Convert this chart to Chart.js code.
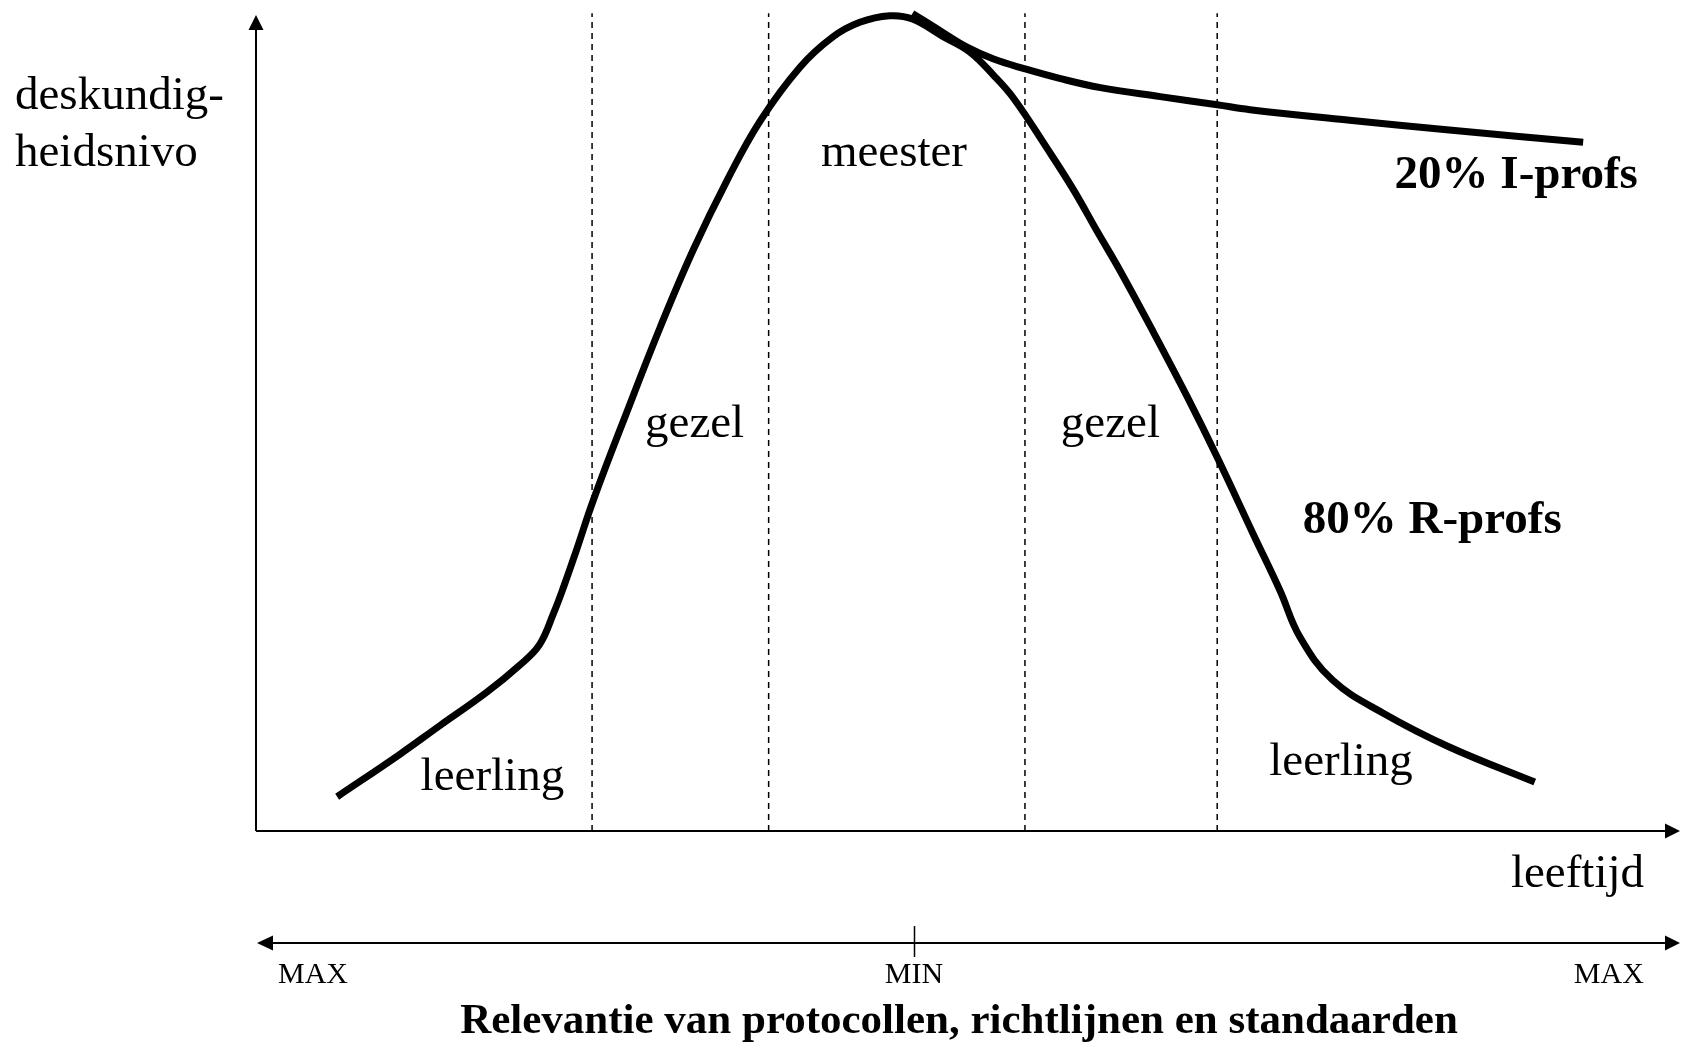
<!DOCTYPE html>
<html lang="nl">
<head>
<meta charset="utf-8">
<title>Deskundigheidsnivo en leeftijd</title>
<script src="https://cdn.jsdelivr.net/npm/chart.js@4.4.1/dist/chart.umd.min.js"></script>
<style>
  html, body { margin: 0; padding: 0; background: #fff; }
  #chart { display: block; }
</style>
</head>
<body>
<canvas id="chart" width="1681" height="1042"></canvas>
<script>
// leeftijd (x) en deskundigheid (y), beide op een schaal 0..100
const rProfsX = [5.7, 10.1, 12.9, 16.2, 18.5, 19.9, 20.9, 21.6, 22.5, 23.7, 26.1, 28.4, 30.7, 33.1, 35.4, 38.2, 40.5, 42.4, 44.5, 46.1, 48.2, 50.1, 51.8, 53.2, 55.5, 57.4, 59.1, 60.7, 63.0, 65.4, 67.5, 70.0, 71.9, 73.3, 75.6, 79.1, 83.8, 89.8];
const rProfsY = [4.2, 9.4, 12.9, 17.0, 20.3, 22.8, 26.7, 29.9, 34.4, 40.6, 51.6, 61.8, 71.2, 79.8, 87.0, 93.6, 97.3, 99.1, 99.9, 99.5, 97.4, 95.5, 92.6, 89.8, 83.8, 78.6, 73.4, 68.6, 61.2, 53.2, 45.8, 36.5, 29.5, 23.8, 18.5, 14.5, 10.3, 6.0];
const iProfsX = [46.1, 48.2, 49.9, 51.8, 54.0, 56.5, 59.3, 63.5, 67.5, 69.8, 76.8, 83.8, 93.2];
const iProfsY = [100.2, 97.9, 96.1, 94.6, 93.4, 92.2, 91.1, 90.0, 89.0, 88.4, 87.1, 85.9, 84.4];
const phaseBounds = [23.6, 36.0, 54.0, 67.5];
const phaseNames = ["leerling", "gezel", "meester", "gezel", "leerling"];
const seriesNames = ["80% R-profs", "20% I-profs"];
const relevanceTicks = [4.0, 46.2, 95.0];
const relevanceLabels = ["MAX", "MIN", "MAX"];

const SERIF = '"Liberation Serif", "DejaVu Serif", serif';

function toPoints(xs, ys) {
  return xs.map((x, i) => ({ x: x, y: ys[i] }));
}

const datasets = [
  {
    label: seriesNames[0],
    data: toPoints(rProfsX, rProfsY),
    borderColor: "#000",
    borderWidth: 7,
    tension: 0.4,
    borderCapStyle: "butt",
  },
  {
    label: seriesNames[1],
    data: toPoints(iProfsX, iProfsY),
    borderColor: "#000",
    borderWidth: 7,
    tension: 0.4,
    borderCapStyle: "butt",
  },
];
phaseBounds.forEach((b) => {
  datasets.push({
    label: "grens",
    data: [{ x: b, y: 0 }, { x: b, y: 100.2 }],
    borderColor: "#000",
    borderWidth: 1.5,
    borderDash: [6, 5],
    tension: 0,
  });
});

// plaats van de tekst in het grafiekvlak (asdata)
const phaseLabelPos = [
  [16.6, 5.0], [30.8, 48.3], [44.8, 81.5], [60.0, 48.3], [76.2, 6.9],
];
const seriesLabelPos = [[82.6, 36.5], [88.5, 78.8]];

function arrowHead(ctx, tipX, tipY, dir, len, half) {
  ctx.beginPath();
  if (dir === "up") {
    ctx.moveTo(tipX, tipY);
    ctx.lineTo(tipX - half, tipY + len);
    ctx.lineTo(tipX + half, tipY + len);
  } else if (dir === "right") {
    ctx.moveTo(tipX, tipY);
    ctx.lineTo(tipX - len, tipY - half);
    ctx.lineTo(tipX - len, tipY + half);
  } else {
    ctx.moveTo(tipX, tipY);
    ctx.lineTo(tipX + len, tipY - half);
    ctx.lineTo(tipX + len, tipY + half);
  }
  ctx.closePath();
  ctx.fill();
}

const decorPlugin = {
  id: "decor",
  beforeDatasetsDraw(chart) {
    const { ctx, chartArea: a } = chart;
    ctx.save();
    ctx.strokeStyle = "#000";
    ctx.fillStyle = "#000";
    ctx.lineWidth = 2;
    // assen
    ctx.beginPath();
    ctx.moveTo(a.left, a.bottom);
    ctx.lineTo(a.left, a.top + 12);
    ctx.moveTo(a.left, a.bottom);
    ctx.lineTo(a.right - 12, a.bottom);
    ctx.stroke();
    arrowHead(ctx, a.left, a.top, "up", 15, 7.5);
    arrowHead(ctx, a.right, a.bottom, "right", 15, 7.5);
    ctx.restore();
  },
  afterDraw(chart) {
    const { ctx, chartArea: a } = chart;
    const xs = chart.scales.x;
    const ys = chart.scales.y;
    ctx.save();
    ctx.fillStyle = "#000";
    ctx.strokeStyle = "#000";

    // relevantie-pijl onder de grafiek
    const ry = a.bottom + 112;
    ctx.lineWidth = 2;
    ctx.beginPath();
    ctx.moveTo(xs.getPixelForValue(0) + 12, ry);
    ctx.lineTo(xs.getPixelForValue(100) - 12, ry);
    ctx.stroke();
    arrowHead(ctx, xs.getPixelForValue(0) + 1, ry, "left", 16, 7.5);
    arrowHead(ctx, xs.getPixelForValue(100), ry, "right", 15, 7.5);
    ctx.lineWidth = 1.5;
    ctx.beginPath();
    const minX = Math.round(xs.getPixelForValue(relevanceTicks[1])) + 0.5;
    ctx.moveTo(minX, ry - 17);
    ctx.lineTo(minX, ry + 14);
    ctx.stroke();

    ctx.font = "30px " + SERIF;
    ctx.textAlign = "center";
    ctx.textBaseline = "alphabetic";
    relevanceLabels.forEach((t, i) => {
      ctx.fillText(t, xs.getPixelForValue(relevanceTicks[i]), ry + 40);
    });

    // fasen
    ctx.font = "47px " + SERIF;
    phaseNames.forEach((t, i) => {
      const p = phaseLabelPos[i];
      ctx.fillText(t, xs.getPixelForValue(p[0]), ys.getPixelForValue(p[1]));
    });

    // reeksnamen
    ctx.font = "bold 47px " + SERIF;
    seriesNames.forEach((t, i) => {
      const p = seriesLabelPos[i];
      ctx.fillText(t, xs.getPixelForValue(p[0]), ys.getPixelForValue(p[1]));
    });

    // astitels
    ctx.font = "47px " + SERIF;
    ctx.textAlign = "left";
    ctx.fillText("deskundig-", 15, 109);
    ctx.fillText("heidsnivo", 15, 166);
    ctx.textAlign = "right";
    ctx.fillText("leeftijd", a.right - 36, a.bottom + 56);

    ctx.font = "bold 43px " + SERIF;
    ctx.textAlign = "center";
    ctx.fillText("Relevantie van protocollen, richtlijnen en standaarden", 959, a.bottom + 202);
    ctx.restore();
  },
};

new Chart(document.getElementById("chart"), {
  type: "scatter",
  data: { datasets: datasets },
  options: {
    responsive: false,
    animation: false,
    devicePixelRatio: 1,
    layout: { padding: { left: 256, right: 1, top: 15, bottom: 211 } },
    elements: { point: { radius: 0, hoverRadius: 0 } },
    datasets: { scatter: { showLine: true, clip: false } },
    plugins: { legend: { display: false }, tooltip: { enabled: false } },
    scales: {
      x: { type: "linear", min: 0, max: 100, display: false },
      y: { type: "linear", min: 0, max: 100, display: false },
    },
  },
  plugins: [decorPlugin],
});
</script>
</body>
</html>
